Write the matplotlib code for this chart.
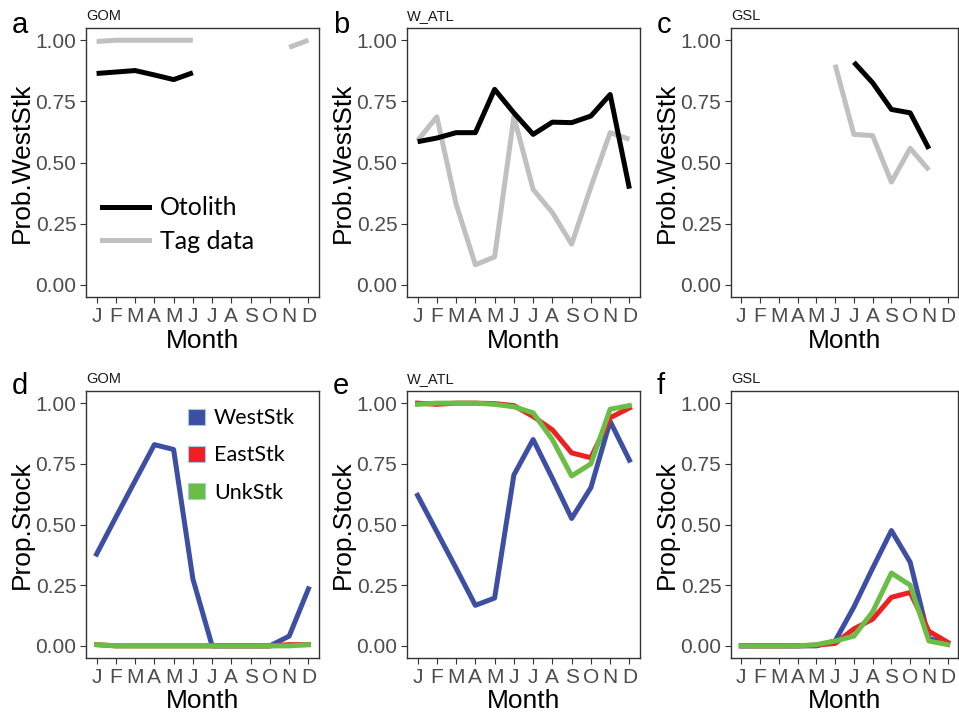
import numpy as np
import matplotlib
matplotlib.use("Agg")
import matplotlib.pyplot as plt
from matplotlib.lines import Line2D
from matplotlib.patches import Patch

nan = np.nan
months = list(range(1, 13))
month_labels = ["J", "F", "M", "A", "M", "J", "J", "A", "S", "O", "N", "D"]

# Top row: probability of western stock (otolith vs tag data)
gom_otolith = [0.864, 0.870, 0.876, 0.858, 0.839, 0.867, nan, nan, nan, nan, nan, nan]
gom_tag = [0.995, 1.0, 1.0, 1.0, 1.0, 1.0, nan, nan, nan, nan, 0.971, 1.0]
watl_otolith = [0.585, 0.60, 0.622, 0.622, 0.799, 0.703, 0.615, 0.665, 0.663, 0.69, 0.778, 0.393]
watl_tag = [0.59, 0.687, 0.33, 0.082, 0.114, 0.687, 0.39, 0.295, 0.166, 0.40, 0.622, 0.595]
gsl_otolith = [nan, nan, nan, nan, nan, nan, 0.91, 0.826, 0.717, 0.703, 0.556, nan]
gsl_tag = [nan, nan, nan, nan, nan, 0.90, 0.615, 0.61, 0.42, 0.558, 0.469, nan]

# Bottom row: proportion of stock
gom_west = [0.378, 0.53, 0.68, 0.829, 0.809, 0.276, 0.0, 0.0, 0.0, 0.0, 0.04, 0.235]
gom_east = [0.005, 0.0, 0.0, 0.0, 0.0, 0.0, 0.0, 0.0, 0.0, 0.0, 0.005, 0.005]
gom_unk = [0.005, 0.0, 0.0, 0.0, 0.0, 0.0, 0.0, 0.0, 0.0, 0.0, 0.0, 0.005]
watl_west = [0.62, 0.47, 0.32, 0.167, 0.197, 0.704, 0.85, 0.69, 0.525, 0.652, 0.925, 0.765]
watl_east = [1.0, 0.995, 1.0, 1.0, 0.998, 0.99, 0.945, 0.89, 0.795, 0.775, 0.94, 0.98]
watl_unk = [0.995, 1.0, 1.0, 1.0, 0.995, 0.985, 0.96, 0.85, 0.70, 0.75, 0.975, 0.99]
gsl_west = [0.0, 0.0, 0.0, 0.0, 0.0, 0.02, 0.16, 0.32, 0.475, 0.345, 0.03, 0.01]
gsl_east = [0.0, 0.0, 0.0, 0.0, 0.003, 0.01, 0.07, 0.11, 0.20, 0.22, 0.06, 0.015]
gsl_unk = [0.0, 0.0, 0.0, 0.0, 0.005, 0.02, 0.04, 0.14, 0.30, 0.25, 0.02, 0.005]

areas = ["GOM", "W_ATL", "GSL"]
letters_top = ["a", "b", "c"]
letters_bot = ["d", "e", "f"]

C_OTO = "#000000"
C_TAG = "#C0C0C0"
C_WEST = "#3C4FA3"
C_EAST = "#EE2024"
C_UNK = "#6ABD45"

W, H = 959, 717
fig = plt.figure(figsize=(W / 100, H / 100), dpi=100)

TICK_FONT = "Liberation Sans"
LEG_FONT = "Lato"
tick_col = "#4D4D4D"

col_left = [86, 407, 731]
col_w = [233, 233, 227]
rows = [(28, 297), (391, 658)]


def make_ax(col, row):
    l = col_left[col]
    t, b = rows[row]
    ax = fig.add_axes([l / W, (H - b) / H, col_w[col] / W, (b - t) / H])
    ax.set_xlim(0.45, 12.55)
    ax.set_ylim(-0.05, 1.05)
    ax.set_xticks(months)
    ax.set_xticklabels(month_labels)
    ax.set_yticks([0, 0.25, 0.5, 0.75, 1.0])
    ax.set_yticklabels(["0.00", "0.25", "0.50", "0.75", "1.00"])
    for lab in ax.get_xticklabels() + ax.get_yticklabels():
        lab.set_fontfamily(TICK_FONT)
        lab.set_fontsize(15)
        lab.set_color(tick_col)
    ax.tick_params(direction="out", length=4, width=0.8, color="#333333", pad=3)
    for s in ax.spines.values():
        s.set_color("#333333")
        s.set_linewidth(1.0)
    ax.set_xlabel("Month", fontfamily=TICK_FONT, fontsize=19, labelpad=2)
    return ax


lw = 3.6
top_data = [(gom_otolith, gom_tag), (watl_otolith, watl_tag), (gsl_otolith, gsl_tag)]
bot_data = [(gom_west, gom_east, gom_unk), (watl_west, watl_east, watl_unk), (gsl_west, gsl_east, gsl_unk)]

for i in range(3):
    ax = make_ax(i, 0)
    oto, tag = top_data[i]
    ax.plot(months, tag, color=C_TAG, lw=lw, solid_capstyle="butt")
    ax.plot(months, oto, color=C_OTO, lw=lw, solid_capstyle="butt")
    ax.set_ylabel("Prob.WestStk", fontfamily=TICK_FONT, fontsize=19, labelpad=1)
    ax.text(0.0, 1.02, areas[i], transform=ax.transAxes, fontfamily=TICK_FONT,
            fontsize=10.5, color="#1A1A1A", ha="left", va="bottom")
    ax.text((col_left[i] - 74) / W, (H - 33) / H, letters_top[i], transform=fig.transFigure,
            fontfamily=TICK_FONT, fontsize=21, ha="left", va="baseline")
    if i == 0:
        handles = [Line2D([], [], color=C_OTO, lw=lw), Line2D([], [], color=C_TAG, lw=lw)]
        leg = ax.legend(handles, ["Otolith", "Tag data"], loc="lower left",
                        bbox_to_anchor=(-0.03, 0.08), frameon=False,
                        prop={"family": LEG_FONT, "size": 18}, handlelength=1.9,
                        handletextpad=0.45, labelspacing=0.42)

for i in range(3):
    ax = make_ax(i, 1)
    west, east, unk = bot_data[i]
    ax.plot(months, west, color=C_WEST, lw=lw)
    ax.plot(months, east, color=C_EAST, lw=lw)
    ax.plot(months, unk, color=C_UNK, lw=lw)
    ax.set_ylabel("Prop.Stock", fontfamily=TICK_FONT, fontsize=19, labelpad=1)
    ax.text(0.0, 1.02, areas[i], transform=ax.transAxes, fontfamily=TICK_FONT,
            fontsize=10.5, color="#1A1A1A", ha="left", va="bottom")
    ax.text((col_left[i] - 74) / W, (H - 394) / H, letters_bot[i], transform=fig.transFigure,
            fontfamily=TICK_FONT, fontsize=21, ha="left", va="baseline")
    if i == 0:
        handles = [Patch(facecolor=C_WEST, edgecolor="#A8C8E8", lw=0.8),
                   Patch(facecolor=C_EAST, edgecolor="#A8C8E8", lw=0.8),
                   Patch(facecolor=C_UNK, edgecolor="#A8C8E8", lw=0.8)]
        leg = ax.legend(handles, ["WestStk", "EastStk", "UnkStk"], loc="upper right",
                        bbox_to_anchor=(0.98, 1.008), frameon=False,
                        prop={"family": LEG_FONT, "size": 15.5}, handlelength=0.8,
                        handleheight=0.8, handletextpad=0.4, labelspacing=0.8)

fig.savefig("out.png", dpi=100)
